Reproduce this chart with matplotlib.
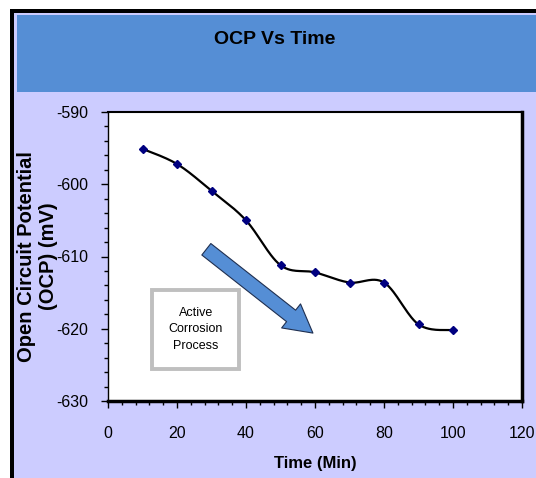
import numpy as np
import matplotlib
matplotlib.use("Agg")
import matplotlib.pyplot as plt
from matplotlib.patches import Rectangle

plt.rcParams['font.family'] = ['Liberation Sans', 'DejaVu Sans']
plt.rcParams['axes.unicode_minus'] = False

# OCP readings
time_min = [10, 20, 30, 40, 50, 60, 70, 80, 90, 100]
ocp_mv = [-595.1, -597.2, -600.9, -605.0, -611.2, -612.2, -613.6, -613.6, -619.4, -620.2]

x_ticks = [0, 20, 40, 60, 80, 100, 120]
y_ticks = [-630, -620, -610, -600, -590]

W, H = 536, 478
BG = '#CCCCFF'
BAND = '#558ED5'
NAVY = '#000080'


def smooth(xs, ys, n=30, k=1/6):
    # Catmull-Rom style bezier smoothing through every point
    x = np.asarray(xs, float)
    y = np.asarray(ys, float)
    px = np.concatenate([[x[0]], x, [x[-1]]])
    py = np.concatenate([[y[0]], y, [y[-1]]])
    out_x, out_y = [], []
    t = np.linspace(0, 1, n)
    for i in range(1, len(px) - 2):
        p0 = np.array([px[i], py[i]])
        p3 = np.array([px[i + 1], py[i + 1]])
        c1 = p0 + k * (p3 - np.array([px[i - 1], py[i - 1]]))
        c2 = p3 - k * (np.array([px[i + 2], py[i + 2]]) - p0)
        b = (np.outer((1 - t) ** 3, p0) + np.outer(3 * (1 - t) ** 2 * t, c1)
             + np.outer(3 * (1 - t) * t ** 2, c2) + np.outer(t ** 3, p3))
        out_x.extend(b[:, 0])
        out_y.extend(b[:, 1])
    return out_x, out_y


fig = plt.figure(figsize=(W / 100, H / 100), dpi=100)
fig.patch.set_facecolor('white')


def fig_rect(x0, y0, x1, y1, color):
    fig.patches.append(Rectangle((x0 / W, 1 - y1 / H), (x1 - x0) / W, (y1 - y0) / H,
                                 transform=fig.transFigure, facecolor=color,
                                 edgecolor='none', zorder=-10))


# chart frame and title band
fig_rect(10, 9, W, H, 'black')
fig_rect(14, 13, W, H, BG)
fig_rect(17, 15, W, 92, BAND)
fig.text(275 / W, 1 - 39 / H, 'OCP Vs Time', ha='center', va='center',
         fontsize=14, fontweight='bold')

ax = fig.add_axes([108 / W, 1 - 401 / H, (522 - 108) / W, (401 - 112) / H])
ax.set_facecolor('white')

sx, sy = smooth(time_min, ocp_mv)
ax.plot(sx, sy, color='black', lw=1.6, zorder=3)
ax.plot(time_min, ocp_mv, linestyle='none', marker='D', markersize=4.5,
        color=NAVY, zorder=4)

ax.set_xlim(0, 120)
ax.set_ylim(-630, -590)
ax.set_xticks(x_ticks)
ax.set_yticks(y_ticks)
ax.set_xticks(np.arange(0, 121, 4), minor=True)
ax.set_yticks(np.arange(-630, -589, 2), minor=True)
ax.tick_params(axis='both', which='major', direction='out', length=5, width=1,
               labelsize=11.5)
ax.tick_params(axis='both', which='minor', direction='out', length=3, width=1)
ax.tick_params(axis='x', which='major', pad=13)
ax.tick_params(axis='y', which='major', pad=9)

ax.spines['top'].set_linewidth(1.5)
ax.spines['left'].set_linewidth(1.0)
ax.spines['right'].set_linewidth(2.5)
ax.spines['bottom'].set_linewidth(2.5)

ax.set_xlabel('Time (Min)', fontsize=12, fontweight='bold', labelpad=11)
ax.set_ylabel('Open Circuit Potential\n(OCP) (mV)', fontsize=14.5,
              fontweight='bold', linespacing=1.2)
ax.yaxis.set_label_coords(-0.12, 0.5)

# trend arrow
ax.annotate('', xy=(59.4, -620.6), xytext=(28.5, -609.0),
            arrowprops=dict(arrowstyle='simple,head_length=2.0,head_width=2.2,tail_width=1.05',
                            mutation_scale=10, facecolor=BAND, edgecolor='#1F2F50',
                            lw=0.8, shrinkA=0, shrinkB=0), zorder=2)

ax.text(25.4, -620.1, 'Active\nCorrosion\nProcess', ha='center', va='center',
        fontsize=9, linespacing=1.55,
        bbox=dict(boxstyle='square,pad=1.3', facecolor='white',
                  edgecolor='#BFBFBF', lw=2.8), zorder=5)

fig.savefig('out.png', dpi=100, facecolor=fig.get_facecolor())
